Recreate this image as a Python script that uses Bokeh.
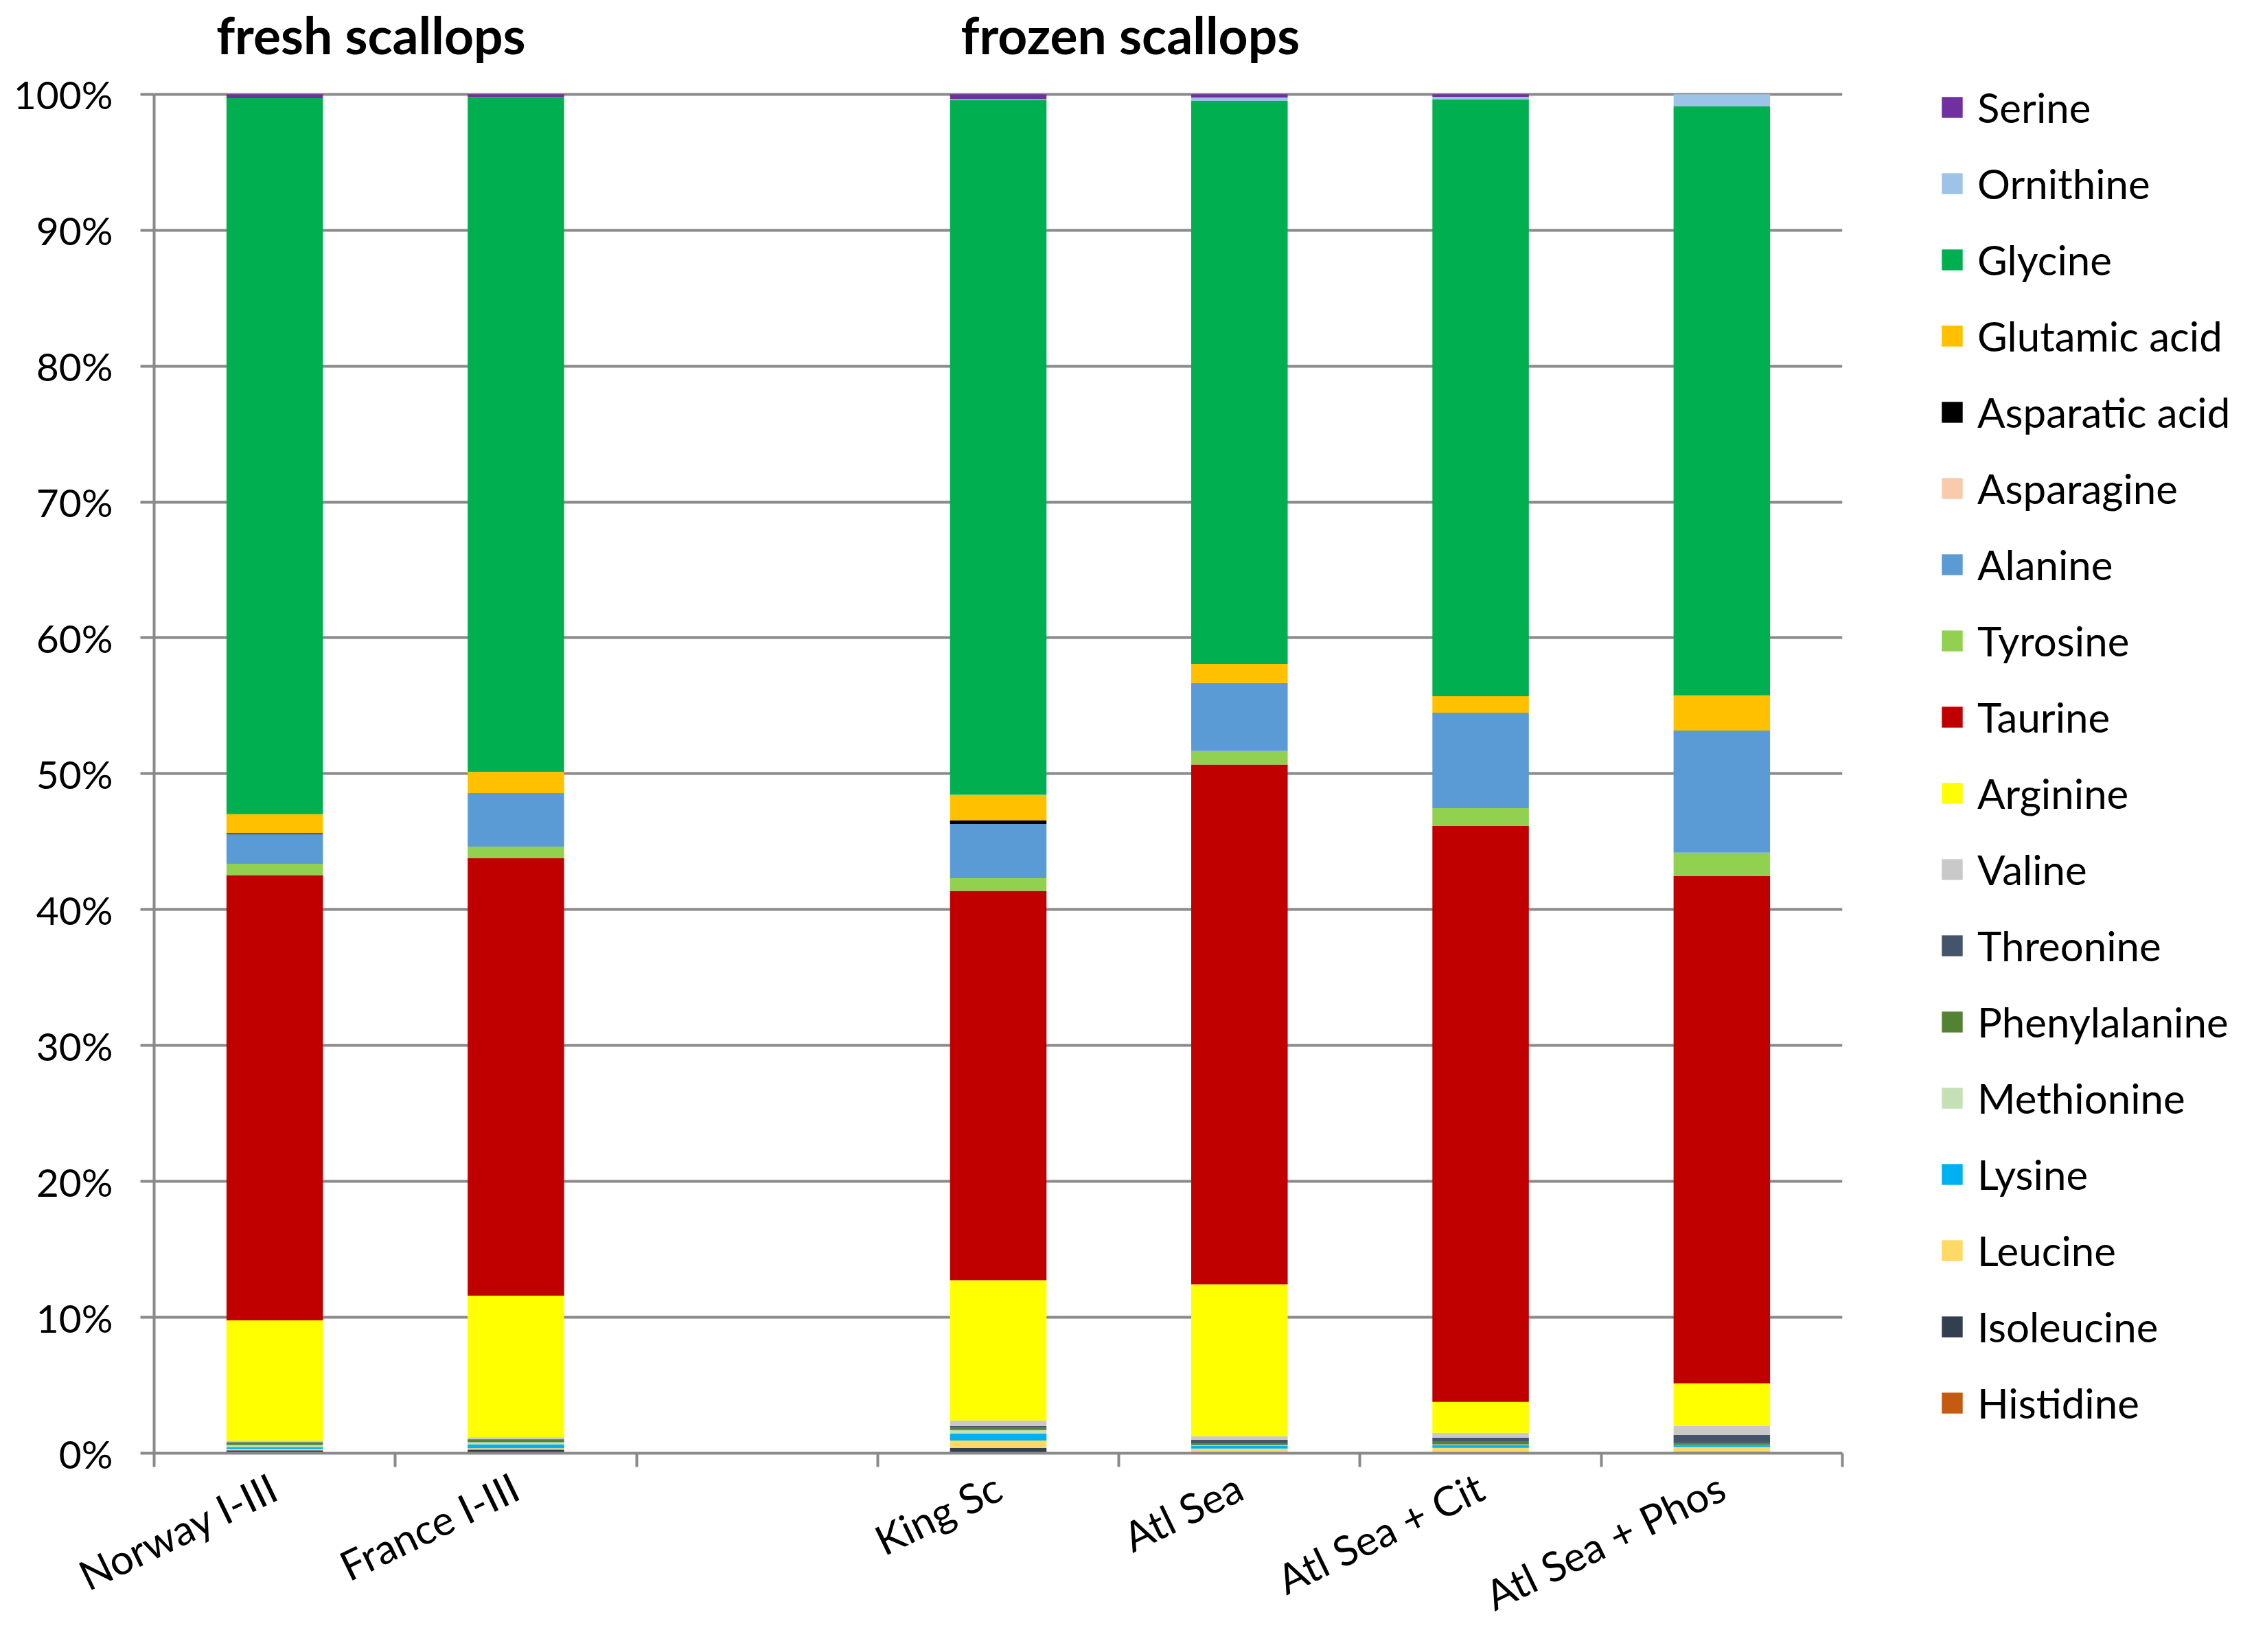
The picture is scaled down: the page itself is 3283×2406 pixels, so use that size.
from bokeh.plotting import figure
from bokeh.models import ColumnDataSource, FixedTicker, Legend, LegendItem, Label
from bokeh.embed import file_html
from bokeh.resources import INLINE

# ---- data (percent of total free amino acids) ----
samples = ["Norway I-III", "France I-III", "King Sc", "Atl Sea", "Atl Sea + Cit", "Atl Sea + Phos"]
slot = [0, 1, 3, 4, 5, 6]          # category slot (slot 2 is an empty gap)

amino = ["Histidine", "Isoleucine", "Leucine", "Lysine", "Methionine", "Phenylalanine",
         "Threonine", "Valine", "Arginine", "Taurine", "Tyrosine", "Alanine",
         "Asparagine", "Asparatic acid", "Glutamic acid", "Glycine", "Ornithine", "Serine"]

colors = ["#C55A11", "#333F50", "#FFD966", "#00B0F0", "#C5E0B4", "#548235",
          "#44546A", "#C9C9C9", "#FFFF00", "#C00000", "#92D050", "#5B9BD5",
          "#F8CBAD", "#000000", "#FFC000", "#00B050", "#9DC3E6", "#7030A0"]

histidine     = [0.02, 0.02, 0.05, 0.02, 0.02, 0.08]
isoleucine    = [0.20, 0.25, 0.34, 0.05, 0.05, 0.02]
leucine       = [0.10, 0.10, 0.55, 0.27, 0.32, 0.35]
lysine        = [0.13, 0.29, 0.51, 0.20, 0.20, 0.15]
methionine    = [0.15, 0.15, 0.25, 0.05, 0.05, 0.02]
phenylalanine = [0.20, 0.20, 0.17, 0.10, 0.25, 0.13]
threonine     = [0.02, 0.02, 0.13, 0.30, 0.26, 0.60]
valine        = [0.10, 0.15, 0.41, 0.26, 0.35, 0.66]
arginine      = [8.86, 10.42, 10.32, 11.18, 2.28, 3.13]
taurine       = [32.74, 32.18, 28.65, 38.24, 42.38, 37.33]
tyrosine      = [0.86, 0.86, 0.94, 1.01, 1.31, 1.72]
alanine       = [2.17, 3.94, 3.99, 4.99, 7.02, 8.99]
asparagine    = [0.0, 0.0, 0.0, 0.0, 0.0, 0.0]
asparatic     = [0.07, 0.0, 0.25, 0.0, 0.0, 0.0]
glutamic      = [1.40, 1.57, 1.89, 1.41, 1.21, 2.58]
glycine       = [52.69, 49.63, 51.13, 41.43, 43.91, 43.34]
ornithine     = [0.0, 0.0, 0.05, 0.25, 0.20, 0.90]
serine        = [0.29, 0.22, 0.37, 0.24, 0.19, 0.0]

series = [histidine, isoleucine, leucine, lysine, methionine, phenylalanine, threonine,
          valine, arginine, taurine, tyrosine, alanine, asparagine, asparatic, glutamic,
          glycine, ornithine, serine]

y_ticks = [0, 10, 20, 30, 40, 50, 60, 70, 80, 90, 100]
y_tick_labels = ["0%", "10%", "20%", "30%", "40%", "50%", "60%", "70%", "80%", "90%", "100%"]
group_titles = ["fresh scallops", "frozen  scallops"]
group_title_x = [0.258, 3.345]

FONT = "Lato"
GRAY = "#898989"

centers = [s + 0.5 for s in slot]
data = {"x": centers}
for name, vals in zip(amino, series):
    data[name] = vals
source = ColumnDataSource(data)

p = figure(frame_width=2459, frame_height=2098, output_backend="svg", toolbar_location=None,
           x_range=(0, 7), y_range=(0, 106),
           min_border_left=224, min_border_right=582, min_border_top=18, min_border_bottom=273)
p.outline_line_color = None
p.background_fill_color = "white"

renderers = p.vbar_stack(amino, x="x", width=0.4, source=source, color=colors, line_color=None)

# y axis
p.yaxis.ticker = FixedTicker(ticks=y_ticks)
p.yaxis.bounds = (0, 100)
p.yaxis.major_label_overrides = {t: l for t, l in zip(y_ticks, y_tick_labels)}
p.yaxis.major_label_text_font = FONT
p.yaxis.major_label_text_font_size = "57px"
p.yaxis.major_label_text_color = "black"
p.yaxis.axis_line_color = GRAY
p.yaxis.axis_line_width = 4
p.yaxis.major_tick_line_color = GRAY
p.yaxis.major_tick_line_width = 4
p.yaxis.major_tick_out = 20
p.yaxis.major_tick_in = 0
p.yaxis.minor_tick_line_color = None
p.yaxis.major_label_standoff = 40

# x axis: labels at bar centres, tick marks between categories
p.xaxis.ticker = FixedTicker(ticks=centers, minor_ticks=[0, 1, 2, 3, 4, 5, 6, 7])
p.xaxis.major_label_overrides = {c: s for c, s in zip(centers, samples)}
p.xaxis.major_label_orientation = 0.45
p.xaxis.major_label_text_font = FONT
p.xaxis.major_label_text_font_size = "60px"
p.xaxis.major_label_text_color = "black"
p.xaxis.major_tick_line_color = None
p.xaxis.minor_tick_line_color = GRAY
p.xaxis.minor_tick_line_width = 4
p.xaxis.minor_tick_out = 20
p.xaxis.minor_tick_in = 0
p.xaxis.axis_line_color = GRAY
p.xaxis.axis_line_width = 4
p.xaxis.major_label_standoff = 25

p.xgrid.grid_line_color = None
p.ygrid.ticker = FixedTicker(ticks=y_ticks)
p.ygrid.grid_line_color = GRAY
p.ygrid.grid_line_width = 4

# group titles (drawn above the 100% line, inside the frame)
for t, gx in zip(group_titles, group_title_x):
    p.add_layout(Label(x=gx, y=104.4, text=t, text_font=FONT, text_font_style="bold",
                       text_font_size="75px", text_color="black", text_baseline="alphabetic"))

# legend (top entry = last series)
items = [LegendItem(label=n, renderers=[r]) for n, r in zip(amino, renderers)][::-1]
legend = Legend(items=items, location=(141, 33), orientation="vertical",
                glyph_width=38, glyph_height=38, label_height=81, spacing=30,
                label_standoff=18, padding=0, margin=0,
                label_text_font=FONT, label_text_font_size="60px",
                label_text_color="black", border_line_color=None,
                background_fill_alpha=0)
p.add_layout(legend, "right")

open("out.html", "w").write(file_html(p, INLINE))
